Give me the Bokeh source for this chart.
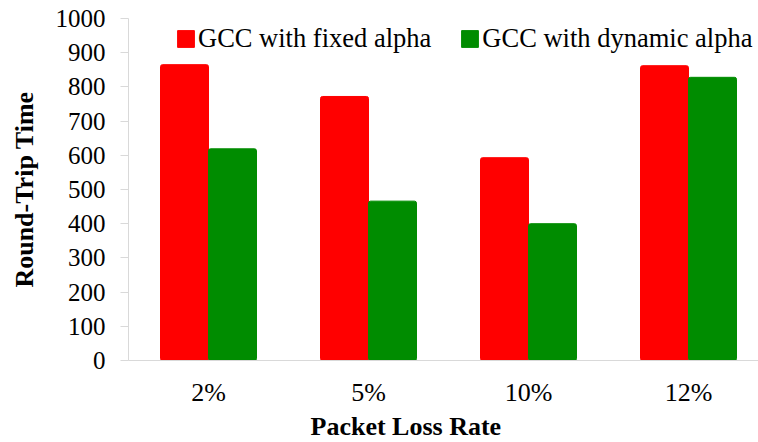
from bokeh.plotting import figure
from bokeh.models import (ColumnDataSource, Range1d, FixedTicker, Legend, LegendItem, Title)
from bokeh.transform import dodge
from bokeh.embed import file_html
from bokeh.resources import INLINE

# Round-trip time per packet loss rate, for the two GCC variants
categories = ["2%", "5%", "10%", "12%"]
fixed_alpha = [865, 772, 593, 862]
dynamic_alpha = [619, 466, 400, 828]
y_ticks = [0, 100, 200, 300, 400, 500, 600, 700, 800, 900, 1000]

FONT = "Times New Roman"
RED = "#ff0000"
GREEN = "#008c00"
AXIS_GREY = "#d9d9d9"

positions = list(range(len(categories)))
source = ColumnDataSource(dict(pos=positions, fixed=fixed_alpha, dynamic=dynamic_alpha))

p = figure(width=758, height=442, output_backend="svg", toolbar_location=None,
           x_range=Range1d(-0.5, 3.4375), y_range=Range1d(0, 1000),
           min_border_top=18, min_border_bottom=82, min_border_right=0,
           min_border_left=128)
p.outline_line_color = None
p.grid.visible = False
p.background_fill_color = "white"
p.border_fill_color = "white"

bar_w = 0.3
r_fixed = p.vbar(x=dodge("pos", -0.15, range=p.x_range), top="fixed", width=bar_w,
                 source=source, fill_color=RED, line_color=RED, border_radius=2)
r_dyn = p.vbar(x=dodge("pos", 0.15, range=p.x_range), top="dynamic", width=bar_w,
               source=source, fill_color=GREEN, line_color=GREEN, border_radius=2)

# x axis: category labels, no tick marks
xa = p.xaxis[0]
xa.ticker = FixedTicker(ticks=positions)
xa.major_label_overrides = {i: c for i, c in zip(positions, categories)}
xa.major_tick_out = 0
xa.major_tick_in = 0
xa.minor_tick_out = 0
xa.minor_tick_in = 0
xa.axis_line_color = AXIS_GREY
xa.major_label_text_font = FONT
xa.major_label_text_font_size = "26px"
xa.major_label_text_color = "black"
xa.major_label_standoff = 17

# x axis title sits left of the frame centre, so it is drawn as a left-aligned title
x_title = Title(text="Packet Loss Rate", align="left", offset=182, standoff=0,
                text_font=FONT, text_font_size="26px", text_font_style="bold",
                text_color="black")
p.add_layout(x_title, "below")

ya = p.yaxis[0]
ya.ticker = FixedTicker(ticks=y_ticks)
ya.major_tick_out = 8
ya.major_tick_in = 0
ya.minor_tick_out = 0
ya.minor_tick_in = 0
ya.major_tick_line_color = AXIS_GREY
ya.axis_line_color = AXIS_GREY
ya.major_label_text_font = FONT
ya.major_label_text_font_size = "25px"
ya.major_label_text_color = "black"
ya.major_label_standoff = 15
ya.axis_label = "Round-Trip Time"
ya.axis_label_text_font = FONT
ya.axis_label_text_font_size = "26px"
ya.axis_label_text_font_style = "bold"
ya.axis_label_text_color = "black"
ya.axis_label_standoff = 14

legend = Legend(items=[LegendItem(label="GCC with fixed alpha", renderers=[r_fixed]),
                       LegendItem(label="GCC with dynamic alpha", renderers=[r_dyn])],
                orientation="horizontal", location=(47, 306),
                glyph_width=21, glyph_height=21, label_standoff=2, spacing=28,
                padding=0, margin=0, border_line_color=None,
                background_fill_alpha=0,
                label_text_font=FONT, label_text_font_size="26.5px",
                label_text_color="black")
p.add_layout(legend, "center")

open("out.html", "w").write(file_html(p, INLINE))
